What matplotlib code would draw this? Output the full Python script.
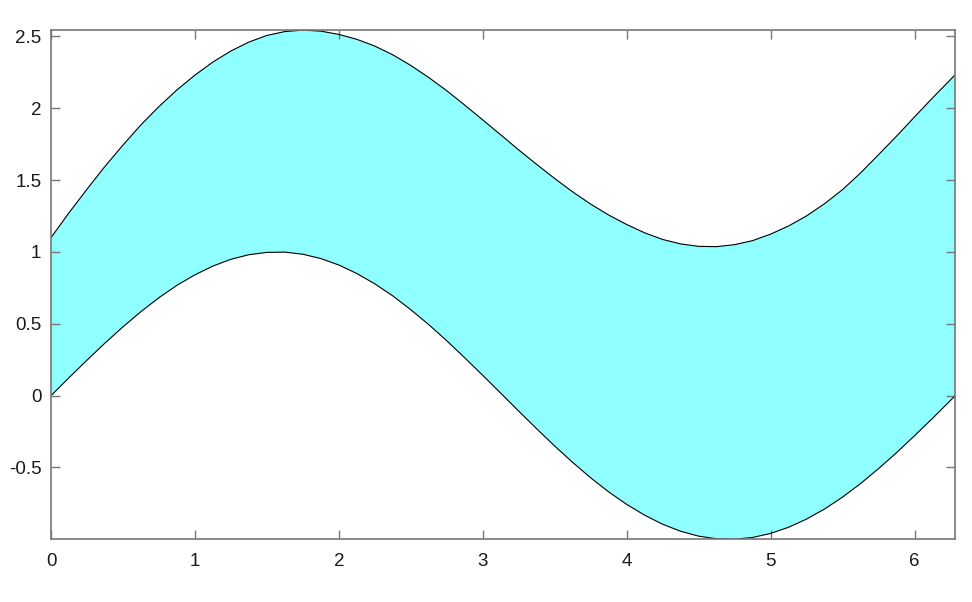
import matplotlib
matplotlib.use("Agg")
import matplotlib.pyplot as plt
from matplotlib.ticker import FixedLocator, FixedFormatter

plt.rcParams['font.family'] = ['Liberation Sans', 'DejaVu Sans']

# x positions at which both bounding curves were read
x_vals = [0.0, 0.125, 0.25, 0.375, 0.5, 0.625, 0.75, 0.875, 1.0, 1.125, 1.25, 1.375,
          1.5, 1.625, 1.75, 1.875, 2.0, 2.125, 2.25, 2.375, 2.5, 2.625, 2.75, 2.875,
          3.0, 3.125, 3.25, 3.375, 3.5, 3.625, 3.75, 3.875, 4.0, 4.125, 4.25, 4.375,
          4.5, 4.625, 4.75, 4.875, 5.0, 5.125, 5.25, 5.375, 5.5, 5.625, 5.75, 5.875,
          6.0, 6.125, 6.25, 6.283]

# lower boundary
lower_vals = [0.0, 0.125, 0.247, 0.366, 0.479, 0.585, 0.682, 0.768, 0.841, 0.902, 0.949, 0.981,
              0.997, 0.999, 0.984, 0.954, 0.909, 0.850, 0.778, 0.694, 0.598, 0.494, 0.382, 0.263,
              0.141, 0.017, -0.108, -0.231, -0.351, -0.465, -0.572, -0.670, -0.757, -0.832, -0.895, -0.944,
              -0.978, -0.996, -0.999, -0.987, -0.959, -0.916, -0.859, -0.789, -0.706, -0.612, -0.508, -0.397,
              -0.279, -0.158, -0.033, 0.0]

# upper boundary
upper_vals = [1.100, 1.273, 1.437, 1.596, 1.744, 1.885, 2.012, 2.128, 2.231, 2.322, 2.399, 2.461,
              2.507, 2.534, 2.544, 2.537, 2.514, 2.480, 2.433, 2.372, 2.298, 2.214, 2.122, 2.022,
              1.919, 1.815, 1.710, 1.609, 1.511, 1.418, 1.333, 1.257, 1.191, 1.133, 1.087, 1.056,
              1.039, 1.037, 1.051, 1.079, 1.124, 1.181, 1.251, 1.336, 1.434, 1.550, 1.677, 1.806,
              1.940, 2.072, 2.200, 2.234]

x_ticks = [0, 1, 2, 3, 4, 5, 6]
x_tick_labels = ["0", "1", "2", "3", "4", "5", "6"]
y_ticks = [-0.5, 0, 0.5, 1, 1.5, 2, 2.5]
y_tick_labels = ["-0.5", "0", "0.5", "1", "1.5", "2", "2.5"]

fig = plt.figure(figsize=(9.72, 6.02), dpi=100)
ax = fig.add_axes([0.0525, 0.1041, 0.9303, 0.8461])

ax.fill_between(x_vals, lower_vals, upper_vals, facecolor="#8fffff", edgecolor="none", zorder=1)
ax.plot(x_vals, upper_vals, color="black", lw=0.8, zorder=2)
ax.plot(x_vals, lower_vals, color="black", lw=0.8, zorder=2)

ax.set_xlim(0, 6.2832)
ax.set_ylim(-1.0, 2.545)

ax.xaxis.set_major_locator(FixedLocator(x_ticks))
ax.xaxis.set_major_formatter(FixedFormatter(x_tick_labels))
ax.yaxis.set_major_locator(FixedLocator(y_ticks))
ax.yaxis.set_major_formatter(FixedFormatter(y_tick_labels))

ax.tick_params(axis="both", which="major", direction="in", length=6.5, width=1.0,
               color="#777777", labelsize=13.5, labelcolor="#1a1a1a",
               top=True, right=True)
ax.tick_params(axis="x", pad=10)
ax.tick_params(axis="y", pad=7)

for s in ax.spines.values():
    s.set_color("#777777")
    s.set_linewidth(1.2)

fig.savefig("out.png", dpi=100)
